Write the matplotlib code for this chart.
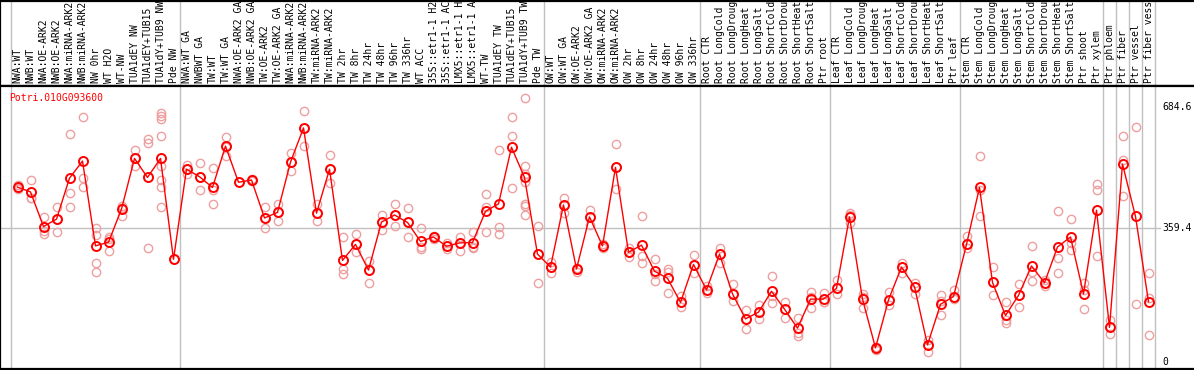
import matplotlib as mpl
mpl.use('Agg')
import matplotlib.pyplot as plt
import matplotlib.transforms as mtransforms

# gene shown in the panel
gene = 'Potri.010G093600'

# sample labels, left to right
labels = [
    'NWA:WT', 'NWB:WT', 'NWA:OE-ARK2', 'NWB:OE-ARK2', 'NWA:miRNA-ARK2', 'NWB:miRNA-ARK2',
    'NW 0hr', 'WT H2O', 'WT-NW', 'TUA1dEY NW', 'TUA1dEY+TUB15', 'TUA1dY+TUB9 NW', 'Pde NW',
    'NWA:WT GA', 'NWBWT GA', 'TW:WT', 'TW:WT GA', 'NWA:OE-ARK2 GA', 'NWB:OE-ARK2 GA',
    'TW:OE-ARK2', 'TW:OE-ARK2 GA', 'NWA:miRNA-ARK2', 'NWB:miRNA-ARK2', 'TW:miRNA-ARK2',
    'TW:miRNA-ARK2', 'TW 2hr', 'TW 8hr', 'TW 24hr', 'TW 48hr', 'TW 96hr', 'TW 336hr', 'WT ACC',
    '35S::etr1-1 H2', '35S::etr1-1 AC', 'LMX5::etr1-1 H', 'LMX5::etr1-1 A', 'WT-TW',
    'TUA1dEY TW', 'TUA1dEY+TUB15', 'TUA1dY+TUB9 TW', 'Pde TW',
    'OW:WT', 'OW:WT GA', 'OW:OE-ARK2', 'OW:OE-ARK2 GA', 'OW:miRNA-ARK2', 'OW:miRNA-ARK2',
    'OW 2hr', 'OW 8hr', 'OW 24hr', 'OW 48hr', 'OW 96hr', 'OW 336hr',
    'Root CTR', 'Root LongCold', 'Root LongDroug', 'Root LongHeat', 'Root LongSalt',
    'Root ShortCold', 'Root ShortDrou', 'Root ShortHeat', 'Root ShortSalt', 'Ptr root',
    'Leaf CTR', 'Leaf LongCold', 'Leaf LongDroug', 'Leaf LongHeat', 'Leaf LongSalt',
    'Leaf ShortCold', 'Leaf ShortDrou', 'Leaf ShortHeat', 'Leaf ShortSalt', 'Ptr leaf',
    'Stem CTR', 'Stem LongCold', 'Stem LongDroug', 'Stem LongHeat', 'Stem LongSalt',
    'Stem ShortCold', 'Stem ShortDrou', 'Stem ShortHeat', 'Stem ShortSalt', 'Ptr shoot', 'Ptr xylem',
    'Ptr phloem', 'Ptr fiber', 'Ptr vessel', 'Ptr fiber vess',
]
group_sizes = [13, 28, 12, 10, 10, 11, 1, 1, 1, 1]

# mean expression per sample
means = [
    470, 457, 364, 384, 494, 540, 312, 322, 411, 547, 496, 547, 276,
    518, 498, 469, 580, 483, 489, 387, 402, 537, 629, 400, 518, 273, 316, 247, 376, 395,
    375, 324, 336, 311, 320, 321, 405, 425, 577, 496, 290,
    255, 422, 250, 390, 312, 523, 295, 314, 244, 225, 160, 262,
    194, 290, 183, 116, 134, 190, 142, 91, 169, 169,
    198, 390, 169, 38, 167, 255, 202, 46, 155, 176,
    316, 469, 214, 125, 179, 258, 213, 309, 336, 183, 408,
    93, 532, 391, 162,
]

# individual replicates per sample
reps = [
    [475, 468, 464], [489, 442, 440], [390, 351, 344], [416, 385, 348],
    [614, 453, 417], [658, 494, 469], [361, 340, 265, 243], [336, 331, 297],
    [420, 413, 392], [569, 547, 527], [599, 588, 306], [668, 661, 654, 606, 527, 489, 469, 416],
    [276],
    [529, 518, 505], [534, 498, 461], [520, 462, 424], [605, 579, 554], [483], [493, 486],
    [416, 387, 359], [424, 402, 378], [562, 537, 512], [674, 629, 580], [424, 400, 379],
    [556, 518, 480], [336, 249, 236], [344, 316, 296], [271, 247, 211], [395, 376, 355],
    [424, 395, 365], [413, 375, 335], [359, 310, 303], [338, 336, 331], [319, 311, 303],
    [335, 320, 299], [348, 310, 305], [451, 417, 348], [569, 362, 344], [658, 607, 467],
    [709, 528, 505, 485, 424, 419, 395], [365, 290, 213],
    [270, 255, 238], [441, 422, 400], [252, 250, 243], [408, 390, 369], [316, 312, 307],
    [585, 523, 464], [306, 295, 283], [391, 285, 265], [276, 237, 218], [250, 241, 185],
    [178, 160, 149], [287, 262, 238],
    [204, 194, 185], [306, 290, 267], [209, 183, 163], [139, 116, 89], [153, 134, 116],
    [230, 178, 158], [161, 142, 119], [119, 77, 70], [189, 175, 144], [186, 162, 160],
    [220, 198, 183], [401, 394, 373], [183, 175, 144], [41, 38, 32], [188, 167, 153],
    [267, 255, 240], [211, 201, 182], [59, 46, 26], [180, 165, 126], [194, 175, 168],
    [339, 316, 306], [554, 462, 393], [254, 214, 180], [161, 113, 104], [210, 179, 147],
    [312, 243, 218], [220, 213, 204], [406, 279, 239], [384, 319, 300], [211, 194, 142],
    [478, 462, 285],
    [113, 93, 74], [607, 543, 446], [631, 156], [239, 171, 72],
]

scale_labels = [684.6, 359.4, 0]
grid_value = 359.4

font = 'DejaVu Sans Mono'
fs = 7
W, H = 1194, 370
fig = plt.figure(figsize=(W / 100, H / 100), dpi=100)

x0, pitch = 17.5, 13.0
xlim = ((0 - x0) / pitch, (W - x0) / pitch)
ylim = (-18.8, 743)

ax_top = fig.add_axes([0, (H - 85.5) / H, 1, 85 / H])
ax = fig.add_axes([0, 1 / H, 1, (369 - 85.5) / H])

bounds = []
c = 0
for g in group_sizes:
    bounds.append(c - 0.5)
    c += g
bounds.append(c - 0.5)

for a in (ax_top, ax):
    a.set_xlim(*xlim)
    a.set_xticks([])
    a.set_yticks([])
    a.spines['right'].set_visible(False)
    for s in ('left', 'top', 'bottom'):
        a.spines[s].set_linewidth(1.6)
        a.spines[s].set_color('black')
    for b in bounds:
        a.axvline(b, color='#c0c0c0', lw=1, zorder=0)

ax_top.set_ylim(0, 1)
xs = list(range(len(labels)))
for i, lab in enumerate(labels):
    t = ax_top.text(i, 0.03, lab, rotation=90, ha='center', va='bottom',
                    fontsize=fs, family=font, color='black')
    t.set_clip_on(True)

ax.set_ylim(*ylim)
ax.axhline(grid_value, xmax=1160 / W, color='#c0c0c0', lw=1, zorder=0)

for i, r in enumerate(reps):
    ax.plot([i] * len(r), r, 'o', ms=6, mfc='none', mec='#eea0a0', mew=1, zorder=2)
ax.plot(xs, means, '-', color='red', lw=1, zorder=3)
ax.plot(xs, means, 'o', ms=6.5, mfc='none', mec='red', mew=1.4, zorder=4)

trans = mtransforms.blended_transform_factory(ax.transAxes, ax.transData)
for v in scale_labels:
    ax.text(1162 / W, v, ('%g' % v), transform=trans, ha='left', va='center',
            fontsize=fs, family=font, color='black')

ax.text(9 / W, 0.975, gene, transform=ax.transAxes, ha='left', va='top',
        fontsize=fs, family=font, color='red')

fig.savefig('out.png', dpi=100)
